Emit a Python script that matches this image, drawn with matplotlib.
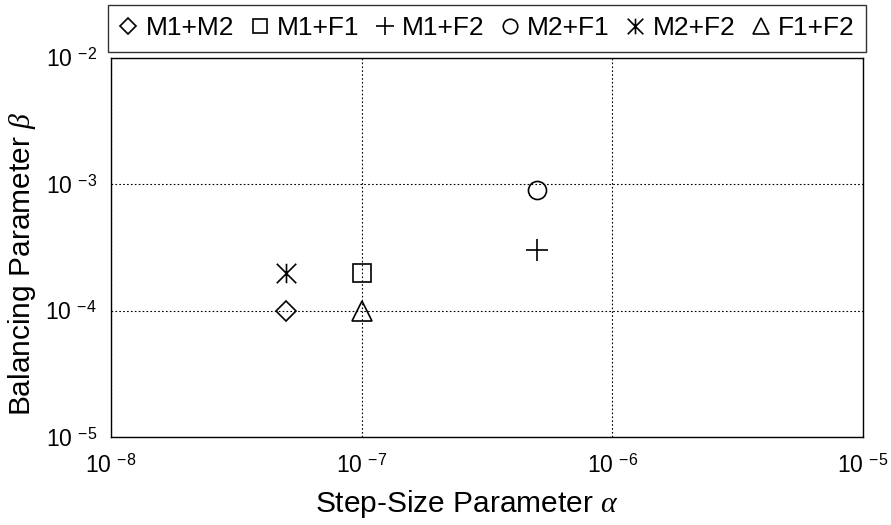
import matplotlib
matplotlib.use('Agg')
import matplotlib.pyplot as plt
from matplotlib.path import Path
import numpy as np

plt.rcParams['font.family'] = ['Liberation Sans', 'DejaVu Sans']
plt.rcParams['mathtext.fontset'] = 'custom'
plt.rcParams['mathtext.rm'] = 'Liberation Sans'
plt.rcParams['mathtext.it'] = 'Liberation Serif:italic'
plt.rcParams['mathtext.bf'] = 'Liberation Sans:bold'

# data
names = ['M1+M2', 'M1+F1', 'M1+F2', 'M2+F1', 'M2+F2', 'F1+F2']
alpha = [5e-8, 1e-7, 5e-7, 5e-7, 5e-8, 1e-7]
beta = [1e-4, 2e-4, 3e-4, 9e-4, 2e-4, 1e-4]

xticks = [1e-8, 1e-7, 1e-6, 1e-5]
xlabels = ['-8', '-7', '-6', '-5']
yticks = [1e-5, 1e-4, 1e-3, 1e-2]
ylabels = ['-5', '-4', '-3', '-2']

# asterisk = vertical bar + X
star = Path([(0, -1), (0, 1), (-1, -1), (1, 1), (-1, 1), (1, -1)],
            [Path.MOVETO, Path.LINETO, Path.MOVETO, Path.LINETO, Path.MOVETO, Path.LINETO])
markers = ['D', 's', '+', 'o', star, '^']
sizes = [10, 13, 16, 13, 14, 14]

fig = plt.figure(figsize=(8.91, 5.25), dpi=100)
ax = fig.add_axes([0.1246, 0.1676, 0.844, 0.722])

handles = []
for i in range(len(names)):
    h, = ax.plot(alpha[i], beta[i], linestyle='none', marker=markers[i],
                 markersize=sizes[i], markerfacecolor='none',
                 markeredgecolor='black', markeredgewidth=1.2, label=names[i])
    handles.append(h)

ax.set_xscale('log')
ax.set_yscale('log')
ax.set_xlim(1e-8, 1e-5)
ax.set_ylim(1e-5, 1e-2)
ax.set_xticks(xticks)
ax.set_xticklabels(['10 $^{' + s + '}$' for s in xlabels])
ax.set_yticks(yticks)
ax.set_yticklabels(['10 $^{' + s + '}$' for s in ylabels])
ax.minorticks_off()
ax.tick_params(length=0, labelsize=16.5)
ax.tick_params(axis='x', pad=12)
ax.tick_params(axis='y', pad=10)
ax.grid(True, color='black', linestyle=(0, (1.5, 2)), linewidth=0.8)
for sp in ax.spines.values():
    sp.set_linewidth(1.0)

ax.set_xlabel(r'Step-Size Parameter $\alpha$', fontsize=21.5)
ax.set_ylabel(r'Balancing Parameter $\beta$', fontsize=21.5)
ax.xaxis.set_label_coords(0.473, -0.135)
ax.yaxis.set_label_coords(-0.097, 0.456)

leg = fig.legend(handles=handles, ncol=6, loc='center',
                 bbox_to_anchor=(0.1212, 0.9029, 0.8507, 0.0857), mode='expand',
                 fontsize=19, frameon=True, fancybox=False, edgecolor='black',
                 handlelength=0.7, handletextpad=0.3, columnspacing=0.6,
                 borderaxespad=0, borderpad=0.42, markerscale=0.8)
leg.get_frame().set_linewidth(1.0)

fig.savefig('out.png', dpi=100)
